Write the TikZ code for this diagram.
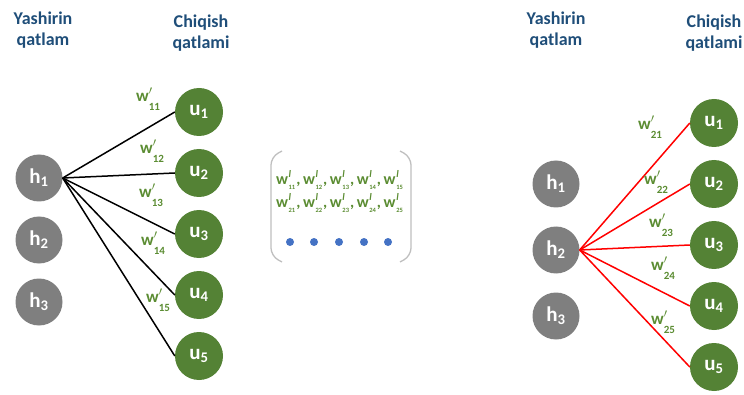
\documentclass[tikz,border=0pt]{standalone}
\usepackage{fontspec}
\setmainfont{Carlito}
\usepackage{tikz}
\usetikzlibrary{positioning}
\definecolor{hgray}{HTML}{7F7F7F}
\definecolor{ugreen}{HTML}{548235}
\definecolor{wgreen}{HTML}{5B8C32}
\definecolor{tblue}{HTML}{1F4E79}
\definecolor{dotblue}{HTML}{4472C4}
\definecolor{brgray}{HTML}{BFBFBF}
\tikzstyle{hnode} = [fill=hgray,shape=circle,minimum size=47pt,inner sep=0pt,text=white,font=\bfseries\fontsize{21}{21}\selectfont]
\tikzstyle{unode} = [fill=ugreen,shape=circle,minimum size=48pt,inner sep=0pt,text=white,font=\bfseries\fontsize{21}{21}\selectfont,node distance=61pt]
\tikzstyle{wlabel} = [text=wgreen,font=\bfseries\fontsize{17}{17}\selectfont]
\tikzstyle{mrow} = [text=wgreen,inner sep=0pt,font=\bfseries\fontsize{16}{16}\selectfont]
\tikzstyle{layer} = [text=tblue,font=\bfseries\fontsize{18}{21}\selectfont,align=center]
\tikzstyle{wire} = [line width=1.5pt]
% weight labels: w with a prime and a lowered index
\newcommand{\wlab}[1]{w\rlap{\raisebox{0.15ex}{$'$}}\raisebox{-1ex}{\fontsize{11}{11}\selectfont #1}}
\newcommand{\wmat}[1]{w\kern0.6pt\rlap{\raisebox{0.95ex}{\fontsize{10}{10}\selectfont\itshape l}}\raisebox{-0.7ex}{\fontsize{6.5}{6.5}\selectfont #1}\kern1pt}

\begin{document}
\begin{tikzpicture}[x=1pt,y=1pt]
\useasboundingbox (0,0) rectangle (744,394);

% left panel
\node[layer] (yl) at (43,364) {Yashirin\\qatlam};
\node[layer] (cl) at (201,361) {Chiqish\\qatlami};

\node[hnode,node distance=62pt] (h1) at (39,216) {h\textsubscript{1}};
\node[hnode,node distance=62pt,below of=h1] (h2) {h\textsubscript{2}};
\node[hnode,node distance=62pt,below of=h2] (h3) {h\textsubscript{3}};

\node[unode] (u1) at (199,282) {u\textsubscript{1}};
\node[unode,below of=u1] (u2) {u\textsubscript{2}};
\node[unode,below of=u2] (u3) {u\textsubscript{3}};
\node[unode,below of=u3] (u4) {u\textsubscript{4}};
\node[unode,below of=u4] (u5) {u\textsubscript{5}};

\foreach \i in {1,...,5}
  \draw[wire,black] (h1.east) -- (u\i.west);

\node[wlabel] (w11) at (148,295) {\wlab{11}};
\node[wlabel] (w12) at (152,243) {\wlab{12}};
\node[wlabel] (w13) at (151,199) {\wlab{13}};
\node[wlabel] (w14) at (153,151) {\wlab{14}};
\node[wlabel] (w15) at (158,94) {\wlab{15}};

% weight matrix in the middle
\draw[brgray,line width=1.3pt,rounded corners=8pt] (282,243) -- (271,237) -- (271,138) -- (282,132);
\draw[brgray,line width=1.3pt,rounded corners=8pt] (400,243) -- (411,237) -- (411,138) -- (400,132);
\node[mrow] (row1) at (340,214) {\wmat{11},\,\wmat{12},\,\wmat{13},\,\wmat{14},\,\wmat{15}};
\node[mrow] (row2) at (340,191) {\wmat{21},\,\wmat{22},\,\wmat{23},\,\wmat{24},\,\wmat{25}};
\foreach \x [count=\k] in {290,314,339,364,388}
  \node[fill=dotblue,shape=circle,minimum size=8pt,inner sep=0pt] (d\k) at (\x,152) {};

% right panel
\node[layer] (yr) at (556,364) {Yashirin\\qatlam};
\node[layer] (cr) at (714,361) {Chiqish\\qatlami};

\node[hnode,node distance=66pt] (r1) at (556,210) {h\textsubscript{1}};
\node[hnode,node distance=66pt,below of=r1] (r2) {h\textsubscript{2}};
\node[hnode,node distance=66pt,below of=r2] (r3) {h\textsubscript{3}};

\node[unode] (v1) at (714,271) {u\textsubscript{1}};
\node[unode,below of=v1] (v2) {u\textsubscript{2}};
\node[unode,below of=v2] (v3) {u\textsubscript{3}};
\node[unode,below of=v3] (v4) {u\textsubscript{4}};
\node[unode,below of=v4] (v5) {u\textsubscript{5}};

\foreach \i in {1,...,5}
  \draw[wire,red] (r2.east) -- (v\i.west);

\node[wlabel] (w21) at (650,267) {\wlab{21}};
\node[wlabel] (w22) at (656,212) {\wlab{22}};
\node[wlabel] (w23) at (661,169) {\wlab{23}};
\node[wlabel] (w24) at (663,126) {\wlab{24}};
\node[wlabel] (w25) at (663,72) {\wlab{25}};
\end{tikzpicture}
\end{document}
